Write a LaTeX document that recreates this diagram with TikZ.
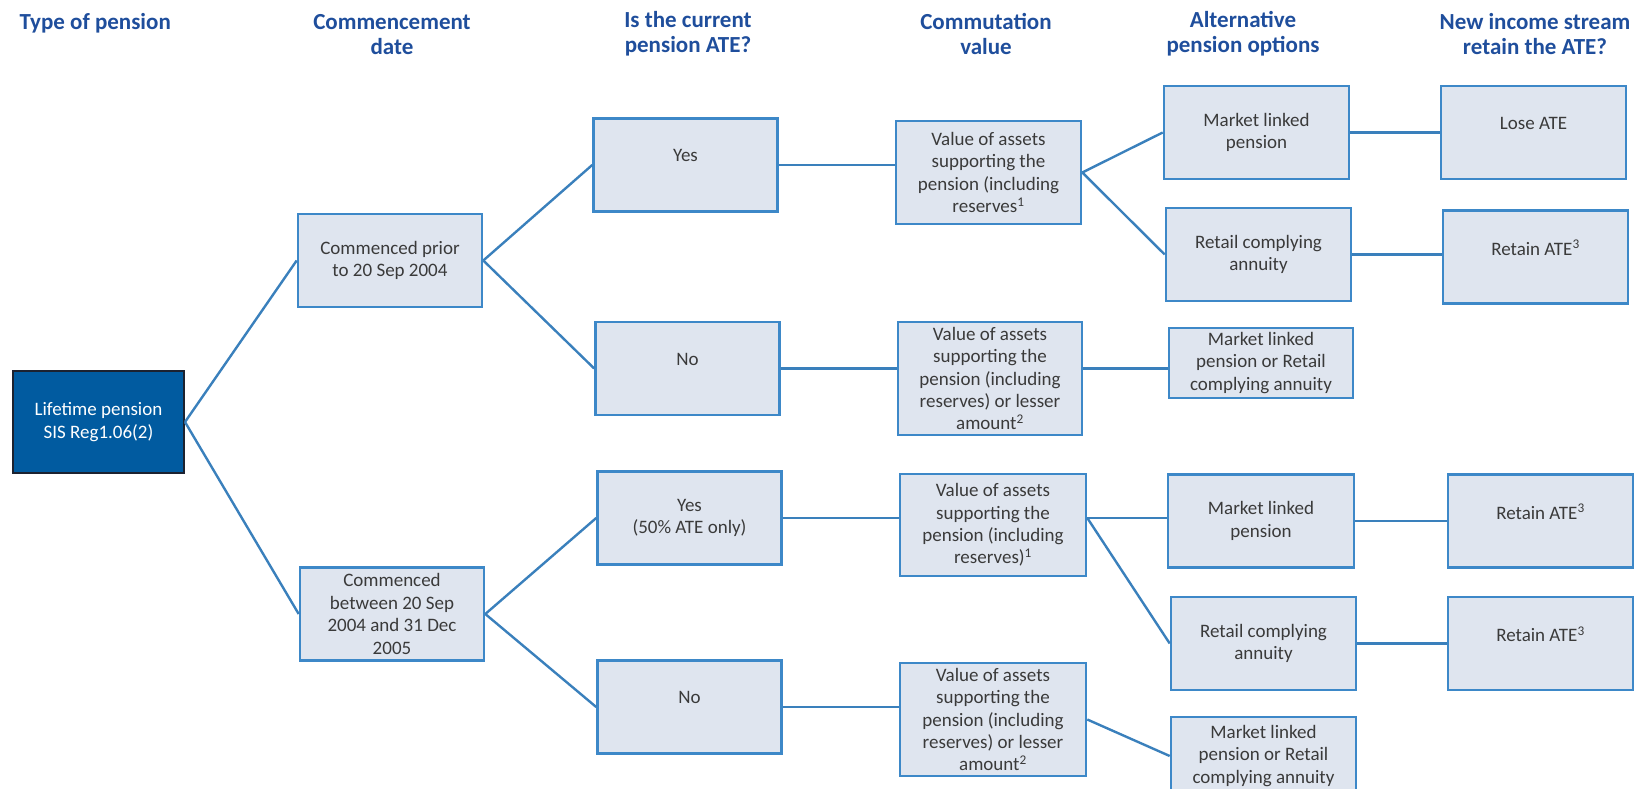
\documentclass[tikz,border=0pt]{standalone}
\usepackage{fontspec}
\setmainfont{Carlito}
\usepackage{tikz}

\definecolor{headblue}{HTML}{1F4E9C}
\definecolor{boxfill}{HTML}{DFE5EF}
\definecolor{boxedge}{HTML}{3D88C8}
\definecolor{lineblue}{HTML}{3A80BC}
\definecolor{leadblue}{HTML}{015BA0}
\definecolor{leadedge}{HTML}{1C2230}
\definecolor{textgrey}{HTML}{3A3A3A}

\begin{document}
\begin{tikzpicture}[x=1pt, y=-1pt,
		node_style/.style={rectangle,draw=boxedge,line width=2.6pt,fill=boxfill,align=center,inner sep=0pt,
			minimum width=184pt,minimum height=93pt,text=textgrey,font=\fontsize{19}{22.4}\selectfont},
		lead_style/.style={node_style,draw=leadedge,line width=2pt,fill=leadblue,text=white},
		head_style/.style={align=center,text=headblue,font=\fontsize{23}{25}\selectfont\bfseries},
		edge_style/.style={draw=lineblue,line width=2.4pt}]

		\clip (0,0) rectangle (1638,789);

		% column headings
		\node[head_style,anchor=west] (h1) at (16,23)  {Type of pension};
		\node[head_style] (h2) at (392,35)  {Commencement\\date};
		\node[head_style] (h3) at (688,34)  {Is the current\\pension ATE?};
		\node[head_style] (h4) at (986,34)  {Commutation\\value};
		\node[head_style] (h5) at (1243,34)  {Alternative\\pension options};
		\node[head_style] (h6) at (1535,34)  {New income stream\\retain the ATE?};

		% boxes
		\node[lead_style,minimum width=171pt,minimum height=102pt] (life) at (98.5,422)  {Lifetime pension\\SIS Reg1.06(2)};
		\node[node_style] (prior) at (390,260.5)  {Commenced prior\\to 20 Sep 2004};
		\node[node_style] (betw) at (392,614)  {Commenced\\between 20 Sep\\2004 and 31 Dec\\2005};

		\node[node_style] (yesA) at (685.5,165)  {Yes\\[-4pt]\mbox{}};
		\node[node_style] (noA) at (687.5,368.5)  {No\\[-4pt]\mbox{}};
		\node[node_style] (yesB) at (689.5,518)  {Yes\\(50\% ATE only)};
		\node[node_style] (noB) at (689.5,707)  {No\\[-4pt]\mbox{}};

		\node[node_style,minimum width=185pt,minimum height=103pt] (valA) at (988.5,172.5)  {Value of assets\\supporting the\\pension (including\\reserves\textsuperscript{1}};
		\node[node_style,minimum width=184pt,minimum height=113pt] (valB) at (990,378.5)  {Value of assets\\supporting the\\pension (including\\reserves) or lesser\\amount\textsuperscript{2}};
		\node[node_style,minimum width=186pt,minimum height=102pt] (valC) at (993,525)  {Value of assets\\supporting the\\pension (including\\reserves)\textsuperscript{1}};
		\node[node_style,minimum width=186pt,minimum height=113pt] (valD) at (993,719.5)  {Value of assets\\supporting the\\pension (including\\reserves) or lesser\\amount\textsuperscript{2}};

		\node[node_style,minimum width=185pt] (mktA) at (1256.5,132.5)  {Market linked\\pension};
		\node[node_style,minimum width=185pt] (rcaA) at (1258.5,254.5)  {Retail complying\\annuity};
		\node[node_style,minimum height=70pt] (orA) at (1261,363)  {Market linked\\pension or Retail\\complying annuity};
		\node[node_style,minimum width=186pt] (mktB) at (1261,521)  {Market linked\\pension};
		\node[node_style,minimum width=185pt] (rcaB) at (1263.5,643.5)  {Retail complying\\annuity};
		\node[node_style,minimum width=185pt,minimum height=78pt] (orB) at (1263.5,756)  {Market linked\\pension or Retail\\complying annuity};

		\node[node_style,minimum width=185pt] (loseA) at (1533.5,132.5)  {Lose ATE\\[-4pt]\mbox{}};
		\node[node_style,minimum width=185pt] (retA) at (1535.5,257)  {Retain ATE\textsuperscript{3}\\[-4pt]\mbox{}};
		\node[node_style,minimum width=185pt] (retB) at (1540.5,521)  {Retain ATE\textsuperscript{3}\\[-4pt]\mbox{}};
		\node[node_style,minimum width=185pt] (retC) at (1540.5,643.5)  {Retain ATE\textsuperscript{3}\\[-4pt]\mbox{}};

		% connectors
		\draw[edge_style]  (life.east) -- (prior.west);
		\draw[edge_style]  (life.east) -- (betw.west);
		\draw[edge_style]  (prior.east) -- (yesA.west);
		\draw[edge_style]  (prior.east) -- (noA.west);
		\draw[edge_style]  (betw.east) -- (yesB.west);
		\draw[edge_style]  (betw.east) -- (noB.west);
		\draw[edge_style]  (yesA.east) -- (yesA.east -| valA.west);
		\draw[edge_style]  (noA.east) -- (noA.east -| valB.west);
		\draw[edge_style]  (yesB.east) -- (yesB.east -| valC.west);
		\draw[edge_style]  (noB.east) -- (noB.east -| valD.west);
		\draw[edge_style]  (valA.east) -- (mktA.west);
		\draw[edge_style]  (valA.east) -- (rcaA.west);
		\draw[edge_style]  (valB.east |- noA.east) -- (noA.east -| orA.west);
		\draw[edge_style]  (valC.east |- yesB.east) -- (yesB.east -| mktB.west);
		\draw[edge_style]  (valC.east |- yesB.east) -- (rcaB.west);
		\draw[edge_style]  (valD.east) -- (orB.west);
		\draw[edge_style]  (mktA.east) -- (loseA.west);
		\draw[edge_style]  (rcaA.east) -- (rcaA.east -| retA.west);
		\draw[edge_style]  (mktB.east) -- (retB.west);
		\draw[edge_style]  (rcaB.east) -- (retC.west);
\end{tikzpicture}
\end{document}
